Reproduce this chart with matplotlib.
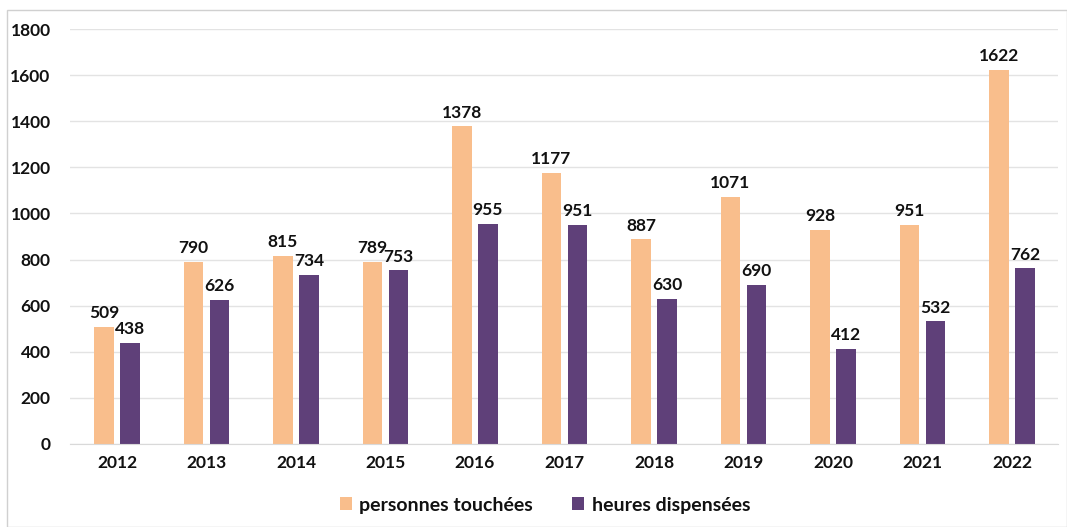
import numpy as np
import matplotlib
matplotlib.use('Agg')
from matplotlib import pyplot as plt
from matplotlib.patches import Rectangle

# data
years = ['2012', '2013', '2014', '2015', '2016', '2017', '2018', '2019', '2020', '2021', '2022']
personnes = [509, 790, 815, 789, 1378, 1177, 887, 1071, 928, 951, 1622]
heures = [438, 626, 734, 753, 955, 951, 630, 690, 412, 532, 762]

orange = '#F9BE8C'
purple = '#5F4079'

plt.rcParams['font.family'] = ['Lato', 'DejaVu Sans']

fig = plt.figure(figsize=(10.67, 5.27), dpi=100)
ax = fig.add_axes([70/1067, 1 - 444/527, 988/1067, 415/527])

x = np.arange(len(years))
w = 0.22
b1 = ax.bar(x - 0.145, personnes, w, color=orange, label='personnes touchées', zorder=2)
b2 = ax.bar(x + 0.145, heures, w, color=purple, label='heures dispensées', zorder=2)

for bars in (b1, b2):
    for r in bars:
        ax.text(r.get_x() + r.get_width()/2, r.get_height() + 25, '{}'.format(int(r.get_height())),
                ha='center', va='bottom', fontsize=12.5, fontweight='bold', color='#111111')

ax.set_xlim(-0.525, 10.515)
ax.set_ylim(0, 1800)
ax.set_yticks(range(0, 1801, 200))
ax.set_xticks(x)
ax.set_xticklabels(years)
ax.grid(axis='y', color='#e3e3e3', linewidth=1, zorder=0)
for s in ax.spines.values():
    s.set_visible(False)
ax.spines['bottom'].set_visible(True)
ax.spines['bottom'].set_color('#d9d9d9')
ax.tick_params(length=0, labelsize=12.5, colors='#111111', pad=8)
ax.tick_params(axis='y', pad=14)
for t in ax.get_xticklabels() + ax.get_yticklabels():
    t.set_fontweight('bold')

leg = fig.legend(handles=[b1, b2], loc='center', bbox_to_anchor=(545/1067, 1 - 505/527), ncol=2,
                 frameon=False, fontsize=14, handlelength=0.6, handleheight=0.6,
                 columnspacing=2.0, handletextpad=0.4)
for t in leg.get_texts():
    t.set_fontweight('bold')
    t.set_color('#111111')

fig.patches.append(Rectangle((7/1067, 0), 1 - 7/1067, 1 - 10/527, transform=fig.transFigure,
                             fill=False, edgecolor='#d0d0d0', linewidth=1))

plt.savefig('out.png')
